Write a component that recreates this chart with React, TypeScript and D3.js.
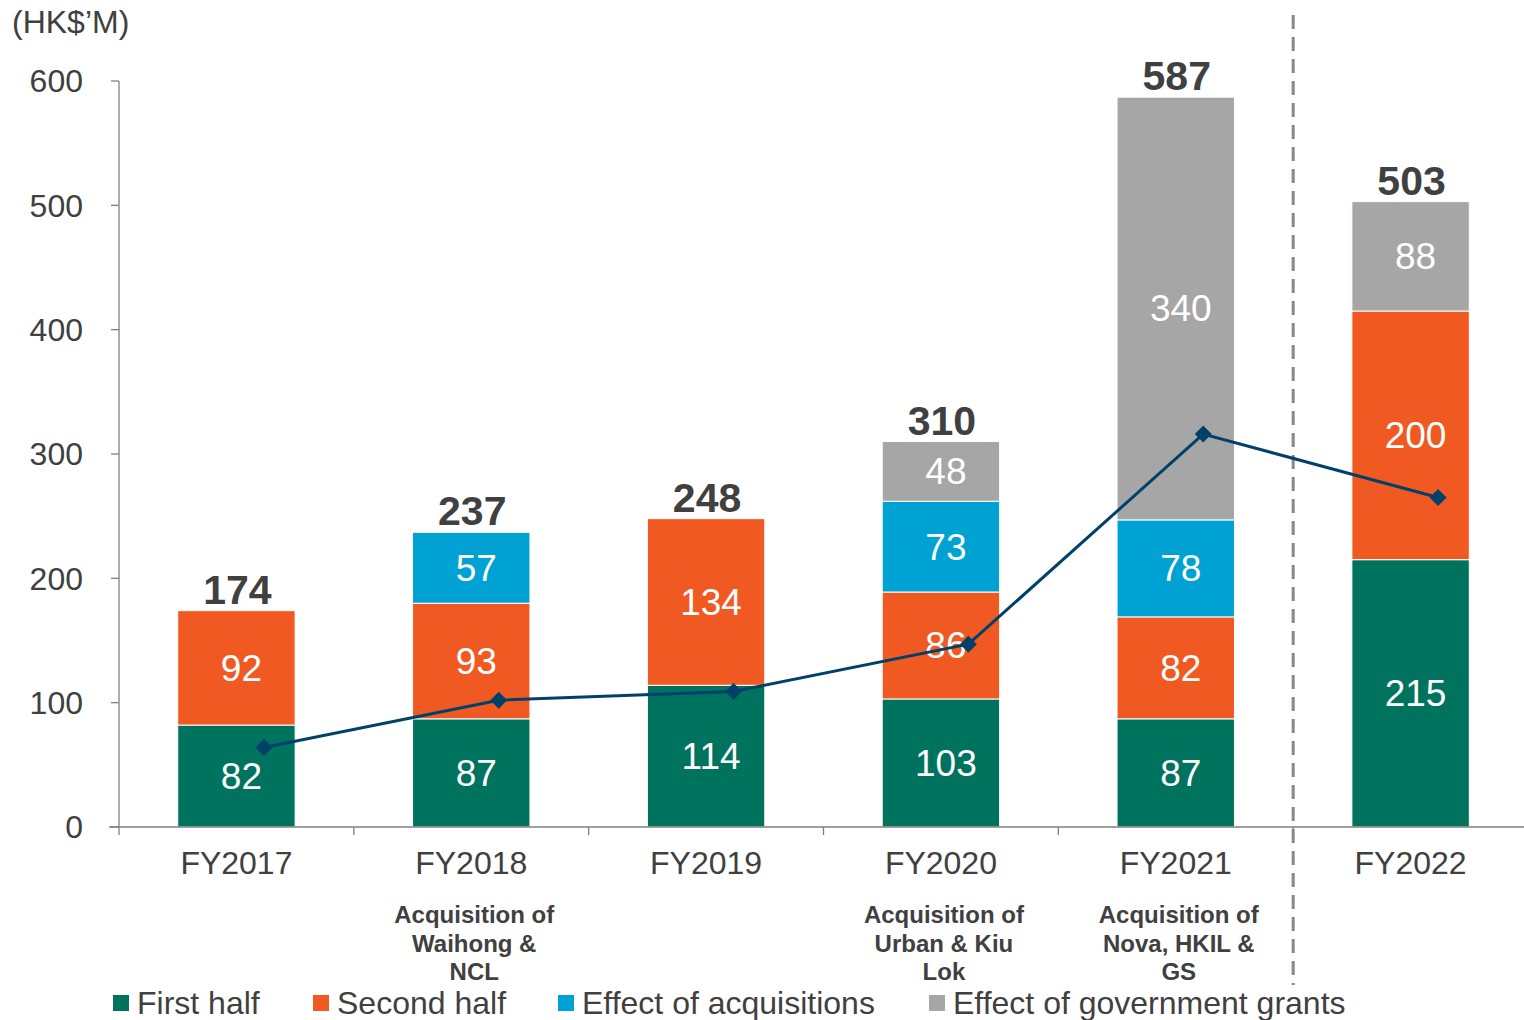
import React from "react";
import * as d3 from "d3";

const categories = ["FY2017", "FY2018", "FY2019", "FY2020", "FY2021", "FY2022"];
const firstHalf = [82, 87, 114, 103, 87, 215];
const secondHalf = [92, 93, 134, 86, 82, 200];
const acquisitions = [0, 57, 0, 73, 78, 0];
const grants = [0, 0, 0, 48, 340, 88];
const lineValues = [64, 102, 109, 147, 316, 265];
const yTicks = [0, 100, 200, 300, 400, 500, 600];
const annotations: string[][] = [
  [],
  ["Acquisition of", "Waihong &", "NCL"],
  [],
  ["Acquisition of", "Urban & Kiu", "Lok"],
  ["Acquisition of", "Nova, HKIL &", "GS"],
  [],
];
const seriesNames = ["First half", "Second half", "Effect of acquisitions", "Effect of government grants"];
const seriesColors = ["#00735F", "#F05A22", "#00A1D3", "#A6A6A6"];

const W = 1524;
const H = 1020;
const FONT = "'Liberation Sans', Arial, sans-serif";
const TXT = "#404040";

export default function App() {
  const x = d3.scaleBand<string>().domain(categories).range([119, 1528]).padding(0);
  const y = d3.scaleLinear().domain([0, 600]).range([827, 81]);
  const bw = x.bandwidth();
  const barW = bw * 0.5;
  const seriesData = [firstHalf, secondHalf, acquisitions, grants];
  const stack = d3
    .stack<number>()
    .keys(["0", "1", "2", "3"])
    .value((i, k) => seriesData[+k][i]);
  const stacked = stack(categories.map((_, i) => i));
  const totals = categories.map((_, i) => seriesData.reduce((s, a) => s + a[i], 0));
  const cx = (i: number) => (x(categories[i]) as number) + bw / 2;
  const lineX = (i: number) => cx(i) + bw * 0.117;
  const line = d3
    .line<number>()
    .x((_, i) => lineX(i))
    .y((d) => y(d));
  const boundaries = categories.map((c) => x(c) as number).concat([1528]);
  const legendX = [113, 313, 558, 929];

  return (
    <svg width={W} height={H} style={{ position: "absolute", left: 0, top: 0, background: "#fff" }} fontFamily={FONT}>
      <text x={12} y={33} fontSize={32} fill={TXT}>(HK$’M)</text>
      {/* y axis */}
      <line x1={119} x2={119} y1={y(600)} y2={y(0)} stroke="#808080" strokeWidth={1.3} />
      {yTicks.map((t) => (
        <g key={t}>
          <line x1={111} x2={119} y1={y(t)} y2={y(t)} stroke="#808080" strokeWidth={1.3} />
          <text x={83} y={y(t)} dy="0.35em" textAnchor="end" fontSize={32} fill={TXT}>{t}</text>
        </g>
      ))}
      {/* bars */}
      {stacked.map((layer, si) =>
        layer.map((d, i) => {
          const v = d[1] - d[0];
          if (v <= 0) return null;
          const x0 = cx(i) - barW / 2;
          return (
            <g key={`${si}-${i}`}>
              <rect x={x0} y={y(d[1])} width={barW} height={y(d[0]) - y(d[1])} fill={seriesColors[si]} stroke="#fff" strokeWidth={1} />
              <text x={cx(i) + 5} y={(y(d[0]) + y(d[1])) / 2} dy="0.35em" textAnchor="middle" fontSize={37} fill="#fff">{v}</text>
            </g>
          );
        })
      )}
      {/* x axis */}
      <line x1={109} x2={1524} y1={y(0)} y2={y(0)} stroke="#808080" strokeWidth={1.3} />
      {boundaries.map((b, i) => (
        <line key={i} x1={b} x2={b} y1={y(0)} y2={y(0) + 8} stroke="#808080" strokeWidth={1.3} />
      ))}
      {categories.map((c, i) => (
        <text key={c} x={cx(i)} y={874} textAnchor="middle" fontSize={32} fill={TXT}>{c}</text>
      ))}
      {annotations.map((lines, i) =>
        lines.map((l, j) => (
          <text key={`${i}-${j}`} x={cx(i) + 3} y={923 + j * 28.5} textAnchor="middle" fontSize={24} fontWeight="bold" fill={TXT}>{l}</text>
        ))
      )}
      {/* totals */}
      {totals.map((t, i) => (
        <text key={i} x={cx(i) + 1} y={y(t) - 7} textAnchor="middle" fontSize={41} fontWeight="bold" fill={TXT}>{t}</text>
      ))}
      {/* divider */}
      <line x1={x("FY2022") as number} x2={x("FY2022") as number} y1={15} y2={985} stroke="#888" strokeWidth={3} strokeDasharray="14 8" />
      {/* line */}
      <path d={line(lineValues) || ""} fill="none" stroke="#00416A" strokeWidth={3} />
      {lineValues.map((v, i) => (
        <rect key={i} x={lineX(i) - 6} y={y(v) - 6} width={12} height={12} fill="#00416A" transform={`rotate(45 ${lineX(i)} ${y(v)})`} />
      ))}
      {/* legend */}
      {seriesNames.map((n, i) => (
        <g key={n}>
          <rect x={legendX[i]} y={995} width={16} height={16} fill={seriesColors[i]} />
          <text x={legendX[i] + 24} y={1014} fontSize={32} fill={TXT}>{n}</text>
        </g>
      ))}
    </svg>
  );
}
